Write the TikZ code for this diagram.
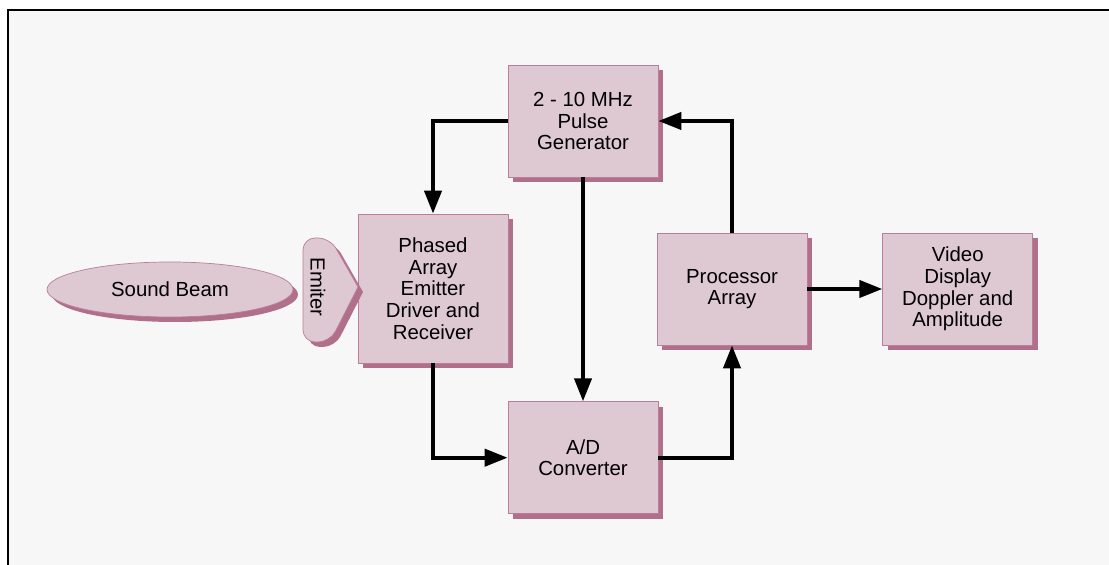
\documentclass[tikz,border=0pt]{standalone}
\usepackage{fontspec}
\setmainfont{Liberation Sans}
\usetikzlibrary{shapes.geometric, arrows.meta, positioning, shadows}

\definecolor{boxfill}{RGB}{222,200,210}
\definecolor{boxedge}{RGB}{188,125,155}
\definecolor{boxshadow}{RGB}{176,112,140}
\definecolor{paper}{RGB}{247,247,247}

\begin{document}
\begin{tikzpicture}[node distance=1.5cm, font=\fontsize{11.6}{12.3}\selectfont]
    % styles
    \tikzstyle{shadowed} = [drop shadow={shadow xshift=0.1cm, shadow yshift=-0.1cm, fill=boxshadow, opacity=1}]
    \tikzstyle{block} = [rectangle, minimum width=3cm, minimum height=2.24cm, align=center, draw=boxedge, fill=boxfill, shadowed]
    \tikzstyle{beam} = [ellipse, inner sep=0pt, minimum width=4.92cm, minimum height=1.1cm, draw=boxedge, fill=boxfill, shadowed]
    \tikzstyle{arrow} = [line width=2.3pt, -{Triangle[length=0.46cm, width=0.34cm]}]

    % page and frame
    \useasboundingbox (0,0) rectangle (22.18,11.3);
    \fill[white] (0,0) rectangle (22.18,11.3);
    \fill[paper] (0.16,-0.5) rectangle (23,11.1);
    \draw[line width=1.1pt] (0.16,-0.5) |- (23,11.1);

    % blocks
    \node (pulse) [block] at (11.66,8.88) {2 - 10 MHz\\Pulse\\Generator};
    \node (ad) [block, below=4.48cm of pulse] {A/D\\Converter};
    \node (phased) [block, minimum height=2.98cm] at (8.66,5.53) {Phased\\Array\\Emitter\\Driver and\\Receiver};
    \node (proc) [block] at (14.64,5.52) {Processor\\Array};
    \node (video) [block, right=of proc] {Video\\Display\\Doppler and\\Amplitude};

    % beam and emitter head
    \node (beam) [beam] at (3.40,5.51) {Sound Beam};
    \draw[draw=boxedge, fill=boxfill, shadowed] (7.16,5.56) [rounded corners=0.24cm] -- (6.6,6.54) -- (6.06,6.54) -- (6.06,4.46) -- (6.6,4.46) [sharp corners] -- cycle;
    \node (emit) [rotate=-90] at (6.36,5.56) {Emiter};

    % signal paths
    \draw [arrow] (pulse.west) -| (phased.north);
    \draw [arrow] (pulse.south) -- (ad.north);
    \draw [arrow] (phased.south) |- (ad.west);
    \draw [arrow] (ad.east) -| (proc.south);
    \draw [arrow] (proc.north) |- (pulse.east);
    \draw [arrow] (proc.east) -- (video.west);
\end{tikzpicture}
\end{document}
